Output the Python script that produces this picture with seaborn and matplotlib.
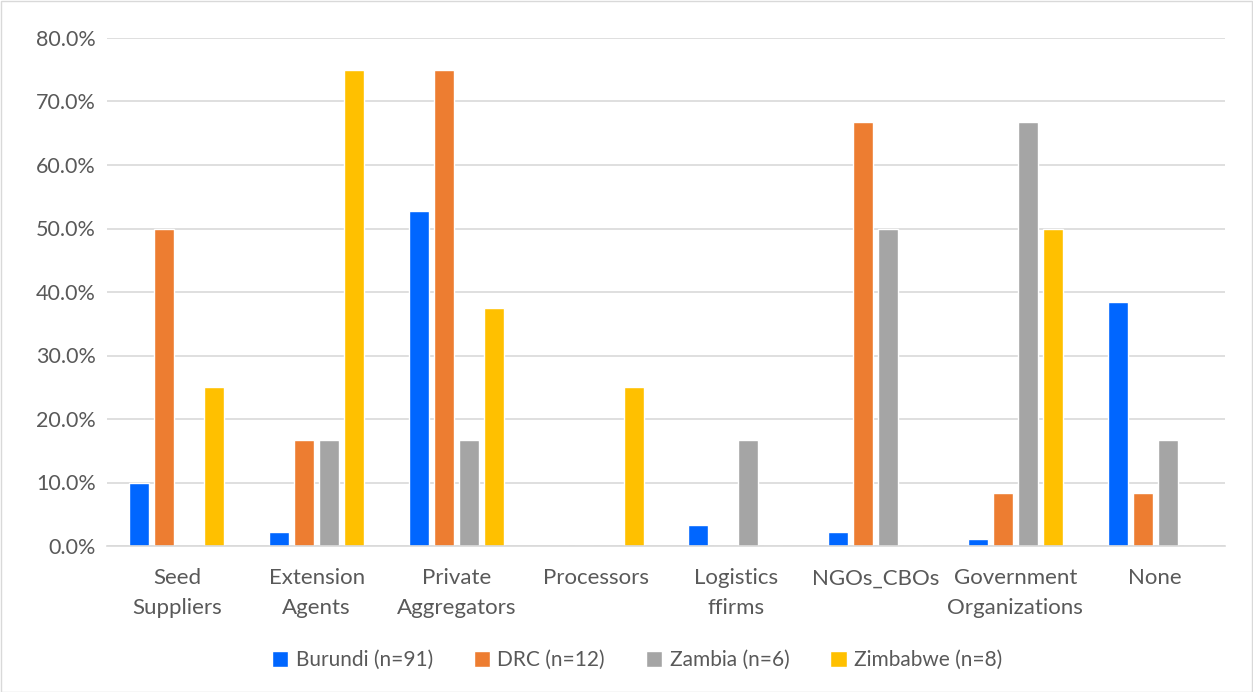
import matplotlib
matplotlib.use("Agg")
import matplotlib.pyplot as plt
import matplotlib.ticker as mticker
from matplotlib.patches import Rectangle
import seaborn as sns
import pandas as pd

categories = ["Seed\nSuppliers", "Extension\nAgents", "Private\nAggregators", "Processors",
              "Logistics\nffirms", "NGOs_CBOs", "Government\nOrganizations", "None"]
series = ["Burundi (n=91)", "DRC (n=12)", "Zambia (n=6)", "Zimbabwe (n=8)"]
burundi = [9.9, 2.2, 52.7, 0.0, 3.3, 2.2, 1.1, 38.5]
drc = [50.0, 16.7, 75.0, 0.0, 0.0, 66.7, 8.3, 8.3]
zambia = [0.0, 16.7, 16.7, 0.0, 16.7, 50.0, 66.7, 16.7]
zimbabwe = [25.0, 75.0, 37.5, 25.0, 0.0, 0.0, 50.0, 0.0]
colors = ["#0066FF", "#ED7D31", "#A5A5A5", "#FFC000"]

rows = []
for name, vals in zip(series, [burundi, drc, zambia, zimbabwe]):
    for cat, v in zip(categories, vals):
        rows.append({"category": cat, "country": name, "value": v})
df = pd.DataFrame(rows)

sns.set_theme(style="white")
plt.rcParams["font.family"] = ["Lato", "DejaVu Sans"]
text_color = "#595959"

fig = plt.figure(figsize=(12.53, 6.92), dpi=100)
ax = fig.add_axes([107 / 1253, 1 - 546 / 692, (1225 - 107) / 1253, (546 - 38) / 692])

sns.barplot(data=df, x="category", y="value", hue="country", order=categories,
            hue_order=series, palette=colors, width=0.716, gap=0.2,
            saturation=1, ax=ax, legend=True)

ax.set_ylim(0, 80)
ax.set_xlim(-0.5, len(categories) - 0.5)
ax.yaxis.set_major_locator(mticker.MultipleLocator(10))
ax.yaxis.set_major_formatter(mticker.FuncFormatter(lambda v, _: f"{v:.1f}%"))
ax.grid(axis="y", color="#D9D9D9", linewidth=1.2)
ax.set_axisbelow(True)
for s in ["top", "right", "left"]:
    ax.spines[s].set_visible(False)
ax.spines["bottom"].set_color("#D9D9D9")
ax.spines["bottom"].set_linewidth(1.2)
ax.set_xlabel("")
ax.set_ylabel("")
ax.tick_params(axis="y", length=0, labelsize=15.5, colors=text_color, pad=8)
ax.tick_params(axis="x", length=0, labelsize=16, colors=text_color, pad=16)
for lbl in ax.get_xticklabels():
    lbl.set_linespacing(1.62)

leg = ax.legend(loc="center", bbox_to_anchor=((637 - 107) / (1225 - 107), (546 - 660) / (546 - 38)),
                ncol=4, frameon=False, fontsize=15, handlelength=0.8, handleheight=0.8,
                columnspacing=1.95, handletextpad=0.35)
for t in leg.get_texts():
    t.set_color(text_color)

fig.patches.append(Rectangle((0.5 / 1253, 0.5 / 692), 1 - 1.5 / 1253, 1 - 1.5 / 692,
                             transform=fig.transFigure, fill=False,
                             edgecolor="#D9D9D9", linewidth=1))

fig.savefig("out.png", dpi=100, facecolor="white")
